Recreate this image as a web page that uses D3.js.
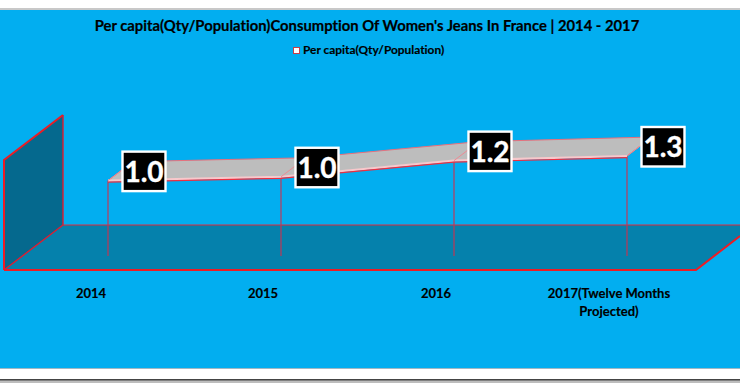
<!DOCTYPE html>
<html><head><meta charset="utf-8">
<script src="https://cdn.jsdelivr.net/npm/d3@7/dist/d3.min.js"></script>
<style>html,body{margin:0;padding:0;background:#fff;overflow:hidden}svg{display:block}text{font-family:Lato,"Open Sans",sans-serif;font-weight:700;font-variant-ligatures:none}</style>
</head><body><svg id="c" width="740" height="383"></svg>
<script>
const categories = ["2014","2015","2016","2017(Twelve Months|Projected)"];
const values = [0.98,1.03,1.24,1.30];
const titleText = "Per capita(Qty/Population)Consumption Of Women's Jeans In France | 2014 - 2017";
const legendText = "Per capita(Qty/Population)";

const svg = d3.select("#c");
const x = d3.scalePoint().domain(categories).range([108,627]);
const y = d3.scaleLinear().domain([0,1.3]).range([256,156]);
const depth = {dx:25,dy:-19};
const line = d3.line();

svg.append("rect").attr("width",740).attr("height",383).attr("fill","#fff");
svg.append("rect").attr("y",380).attr("width",740).attr("height",3).attr("fill","#bdbdbd");
svg.append("rect").attr("y",379).attr("width",740).attr("height",1.5).attr("fill","#444");
svg.append("rect").attr("y",8).attr("width",740).attr("height",2).attr("fill","#c8c8c8");
svg.append("rect").attr("y",10).attr("width",740).attr("height",358).attr("fill","#02AEF0");
svg.append("rect").attr("y",368).attr("width",740).attr("height",1).attr("fill","#9fb8c4");

// floor and back wall
svg.append("path").attr("d",line([[4,270],[63,225],[740,225],[740,236],[696,270]])+"Z").attr("fill","#0581AC");
svg.append("path").attr("d",line([[4,270],[696,270],[740,236]])).attr("fill","none").attr("stroke","#ed1c24").attr("stroke-width",2);
svg.append("path").attr("d",line([[63,225],[740,225]])).attr("fill","none").attr("stroke","#e02a3c").attr("stroke-width",1.2);
svg.append("path").attr("d",line([[4,160],[63,115],[63,225],[4,270]])+"Z").attr("fill","#05698E");
svg.append("path").attr("d",line([[4,270],[4,160],[63,115]])).attr("fill","none").attr("stroke","#ed1c24").attr("stroke-width",2);
svg.append("path").attr("d",line([[63,115],[63,225],[4,270]])).attr("fill","none").attr("stroke","#e01c30").attr("stroke-width",1.4);

// drop lines
svg.selectAll(".drop").data(categories).join("line").attr("class","drop")
  .attr("x1",d=>x(d)).attr("x2",d=>x(d))
  .attr("y1",(d,i)=>y(values[i])).attr("y2",y(0))
  .attr("stroke","#d0304e").attr("stroke-width",1.1);

// ribbon
const front = categories.map((c,i)=>[x(c),y(values[i])]);
const back = front.map(p=>[p[0]+depth.dx,p[1]+depth.dy]);
svg.append("path").attr("d",line(front.concat(back.slice().reverse()))+"Z")
  .attr("fill","#BDBDBD").attr("stroke","#e8707c").attr("stroke-width",1);
svg.append("path").attr("d",line(front)).attr("fill","none").attr("stroke","#f7c9cc").attr("stroke-width",2.2);
svg.append("path").attr("d",line(front.map(p=>[p[0],p[1]+1.6]))).attr("fill","none").attr("stroke","#ef2f40").attr("stroke-width",1.2);
svg.selectAll(".rib").data(front).join("line").attr("class","rib")
  .attr("x1",d=>d[0]).attr("y1",d=>d[1]).attr("x2",d=>d[0]+depth.dx).attr("y2",d=>d[1]+depth.dy)
  .attr("stroke","#ee8a94").attr("stroke-width",1);

// data labels
const labels = svg.selectAll(".lab").data(categories).join("g").attr("class","lab")
  .attr("transform",(d,i)=>`translate(${x(d)+36},${y(values[i])-9})`);
labels.append("rect").attr("x",-21.5).attr("y",-20).attr("width",43).attr("height",39.5)
  .attr("fill","#000").attr("stroke","#fff").attr("stroke-width",2.4);
labels.append("text").attr("text-anchor","middle").attr("y",10).attr("font-size",28)
  .attr("fill","#fff").attr("stroke","#fff").attr("stroke-width",0.4).text((d,i)=>values[i].toFixed(1));

// title and legend
svg.append("text").attr("x",367).attr("y",31).attr("text-anchor","middle").attr("font-size",14.8)
  .attr("fill","#000").attr("stroke","#000").attr("stroke-width",0.2).text(titleText);
svg.append("rect").attr("x",293.5).attr("y",47.5).attr("width",6).attr("height",6).attr("fill","#fff").attr("stroke","#c8404a");
svg.append("text").attr("x",303).attr("y",54).attr("font-size",11.9).attr("fill","#000").attr("stroke","#000").attr("stroke-width",0.15).text(legendText);

// category labels
const cat = svg.selectAll(".cat").data(categories).join("text").attr("class","cat")
  .attr("text-anchor","middle").attr("font-size",13).attr("fill","#000").attr("stroke","#000").attr("stroke-width",0.15);
cat.each(function(d){
  const t=d3.select(this), i=categories.indexOf(d);
  d.split("|").forEach((s,k)=>t.append("tspan").attr("x",[91,263,436,609][i]).attr("y",298+k*18).text(s));
});
</script></body></html>
